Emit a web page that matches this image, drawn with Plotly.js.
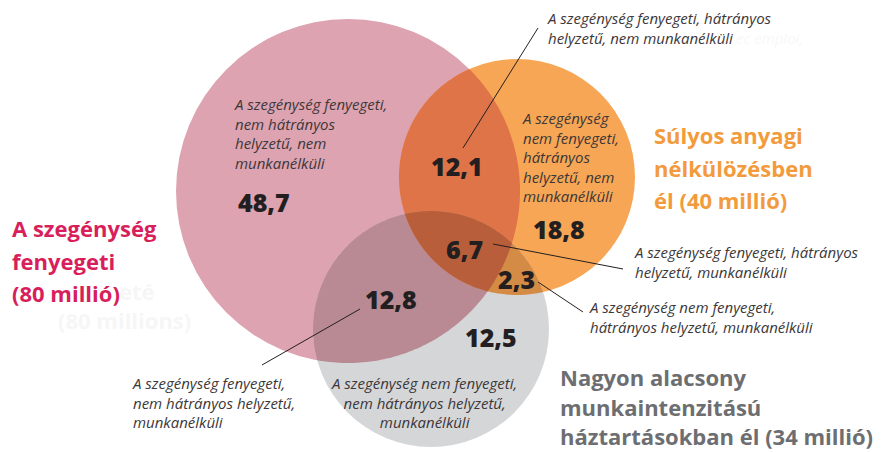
<!DOCTYPE html>
<html>
<head>
<meta charset="utf-8">
<script src="https://cdn.plot.ly/plotly-3.0.1.min.js"></script>
<style>
  html, body { margin: 0; padding: 0; background: #ffffff; }
  #chart { width: 885px; height: 452px; }
</style>
</head>
<body>
<div id="chart"></div>
<script>
// ---------- DATA ----------
const setNames = ['A szegénység fenyegeti', 'Súlyos anyagi nélkülözésben él', 'Nagyon alacsony munkaintenzitású háztartásokban él'];
const setTotals = [80, 40, 34]; // millió
const regionValues = [48.7, 12.1, 18.8, 6.7, 2.3, 12.8, 12.5];
const regionDescriptions = [
  'A szegénység fenyegeti,<br>nem hátrányos<br>helyzetű, nem<br>munkanélküli',
  'A szegénység fenyegeti, hátrányos<br>helyzetű, nem munkanélküli',
  'A szegénység<br>nem fenyegeti,<br>hátrányos<br>helyzetű, nem<br>munkanélküli',
  'A szegénység fenyegeti, hátrányos<br>helyzetű, munkanélküli',
  'A szegénység nem fenyegeti,<br>hátrányos helyzetű, munkanélküli',
  'A szegénység fenyegeti,<br>nem hátrányos helyzetű,<br>munkanélküli',
  'A szegénység nem fenyegeti,<br>nem hátrányos helyzetű,<br>munkanélküli'
];
const titleLines = [
  ['A szegénység', 'fenyegeti', '(' + setTotals[0] + ' millió)'],
  ['Súlyos anyagi', 'nélkülözésben', 'él (' + setTotals[1] + ' millió)'],
  ['Nagyon alacsony', 'munkaintenzitású', 'háztartásokban él (' + setTotals[2] + ' millió)']
];

// ---------- LAYOUT GEOMETRY (pixel space) ----------
const circles = [
  {cx: 348, cy: 191, r: 172, color: '#DEA3B1'},
  {cx: 517, cy: 177, r: 118, color: '#F7A655'},
  {cx: 431, cy: 329, r: 118, color: '#D5D6D8'}
];
const overlapColors = {AB: '#DF7449', AC: '#B98A94', BC: '#D38B45', ABC: '#B95E3A'};
const titleStyle = [
  {x: 10, y: [228, 261, 293], color: '#D81E5B', size: 22},
  {x: 652, y: [135, 168, 200], color: '#F39B3C', size: 22},
  {x: 558, y: [377, 407, 436], color: '#6D6E71', size: 22}
];
const valuePos = [[264, 202], [457, 166], [559, 229], [464, 249], [516, 279], [391, 299], [491, 337]];
const descPos = [
  [232, 133, 'left', 'left'],
  [545, 28, 'left', 'left'],
  [520, 157, 'left', 'left'],
  [632, 262, 'left', 'left'],
  [587, 317, 'left', 'left'],
  [130, 402, 'left', 'left'],
  [424, 402, 'center', 'center']
];
const leaders = [
  [463, 148, 538, 28],
  [493, 244, 623, 269],
  [538, 282, 583, 312],
  [360, 309, 262, 365]
];

const fmt = v => v.toFixed(1).replace('.', ',');
const FONT = 'Open Sans, Lato, sans-serif';

// ---------- geometry helpers (circle polygons and convex clipping) ----------
function circlePoly(c, n) {
  const pts = [];
  for (let k = 0; k < n; k++) {
    const a = 2 * Math.PI * k / n;
    pts.push([c.cx + c.r * Math.cos(a), c.cy + c.r * Math.sin(a)]);
  }
  return pts;
}
function clipConvex(subject, clip) {
  let out = subject;
  for (let i = 0; i < clip.length; i++) {
    const a = clip[i], b = clip[(i + 1) % clip.length];
    const inside = p => (b[0] - a[0]) * (p[1] - a[1]) - (b[1] - a[1]) * (p[0] - a[0]) >= 0;
    const inter = (p, q) => {
      const x1 = p[0], y1 = p[1], x2 = q[0], y2 = q[1];
      const x3 = a[0], y3 = a[1], x4 = b[0], y4 = b[1];
      const den = (x1 - x2) * (y3 - y4) - (y1 - y2) * (x3 - x4);
      const t = ((x1 - x3) * (y3 - y4) - (y1 - y3) * (x3 - x4)) / den;
      return [x1 + t * (x2 - x1), y1 + t * (y2 - y1)];
    };
    const inp = out; out = [];
    if (!inp.length) break;
    for (let j = 0; j < inp.length; j++) {
      const cur = inp[j], prev = inp[(j + inp.length - 1) % inp.length];
      if (inside(cur)) {
        if (!inside(prev)) out.push(inter(prev, cur));
        out.push(cur);
      } else if (inside(prev)) {
        out.push(inter(prev, cur));
      }
    }
  }
  return out;
}
const toPath = pts => 'M' + pts.map(p => p[0].toFixed(2) + ',' + p[1].toFixed(2)).join('L') + 'Z';

const polys = circles.map(c => circlePoly(c, 360));
const AB = clipConvex(polys[0], polys[1]);
const AC = clipConvex(polys[0], polys[2]);
const BC = clipConvex(polys[1], polys[2]);
const ABC = clipConvex(AB, polys[2]);

const shapes = [];
circles.forEach(c => {
  shapes.push({type: 'circle', xref: 'x', yref: 'y', x0: c.cx - c.r, x1: c.cx + c.r, y0: c.cy - c.r, y1: c.cy + c.r,
    fillcolor: c.color, line: {width: 0}, layer: 'below'});
});
[[AB, overlapColors.AB], [AC, overlapColors.AC], [BC, overlapColors.BC], [ABC, overlapColors.ABC]].forEach(r => {
  shapes.push({type: 'path', xref: 'x', yref: 'y', path: toPath(r[0]), fillcolor: r[1], line: {width: 0}, layer: 'below'});
});
leaders.forEach(l => {
  shapes.push({type: 'line', xref: 'x', yref: 'y', x0: l[0], y0: l[1], x1: l[2], y1: l[3],
    line: {color: '#231F20', width: 1}, layer: 'above'});
});

const annotations = [];
// faint ghost texts present in the source image
annotations.push({x: 157, y: 291, xref: 'x', yref: 'y', xanchor: 'right', yanchor: 'middle', showarrow: false,
  text: 'eté', font: {family: FONT, size: 22, color: '#F6F6F6', weight: 700}});
annotations.push({x: 56, y: 320, xref: 'x', yref: 'y', xanchor: 'left', yanchor: 'middle', showarrow: false,
  text: '(80 millions)', font: {family: FONT, size: 22, color: '#F6F6F6', weight: 700}});
annotations.push({x: 734, y: 38, xref: 'x', yref: 'y', xanchor: 'left', yanchor: 'middle', showarrow: false,
  text: 'ec emploi,', font: {family: FONT, size: 15, color: '#F8F8F8', style: 'italic'}});

titleLines.forEach((lines, i) => {
  const st = titleStyle[i];
  lines.forEach((t, j) => {
    annotations.push({x: st.x, y: st.y[j], xref: 'x', yref: 'y', xanchor: 'left', yanchor: 'middle', showarrow: false,
      text: t, font: {family: FONT, size: st.size, color: st.color, weight: 700}});
  });
});
regionValues.forEach((v, i) => {
  annotations.push({x: valuePos[i][0], y: valuePos[i][1], xref: 'x', yref: 'y', xanchor: 'center', yanchor: 'middle',
    showarrow: false, text: fmt(v), font: {family: FONT, size: 25, color: '#231F20', weight: 800}});
});
regionDescriptions.forEach((d, i) => {
  const p = descPos[i];
  annotations.push({x: p[0], y: p[1], xref: 'x', yref: 'y', xanchor: p[2], yanchor: 'middle', align: p[3],
    showarrow: false, text: d, font: {family: FONT, size: 15, color: '#3C3738', style: 'italic'}});
});

const layout = {
  width: 885, height: 452,
  margin: {l: 0, r: 0, t: 0, b: 0},
  paper_bgcolor: '#ffffff', plot_bgcolor: '#ffffff',
  xaxis: {range: [0, 885], visible: false, fixedrange: true},
  yaxis: {range: [452, 0], visible: false, fixedrange: true},
  showlegend: false,
  shapes: shapes,
  annotations: annotations
};

Plotly.newPlot('chart', [{x: [], y: [], type: 'scatter', mode: 'markers', hoverinfo: 'skip'}], layout,
  {staticPlot: true, displayModeBar: false});
</script>
</body>
</html>
